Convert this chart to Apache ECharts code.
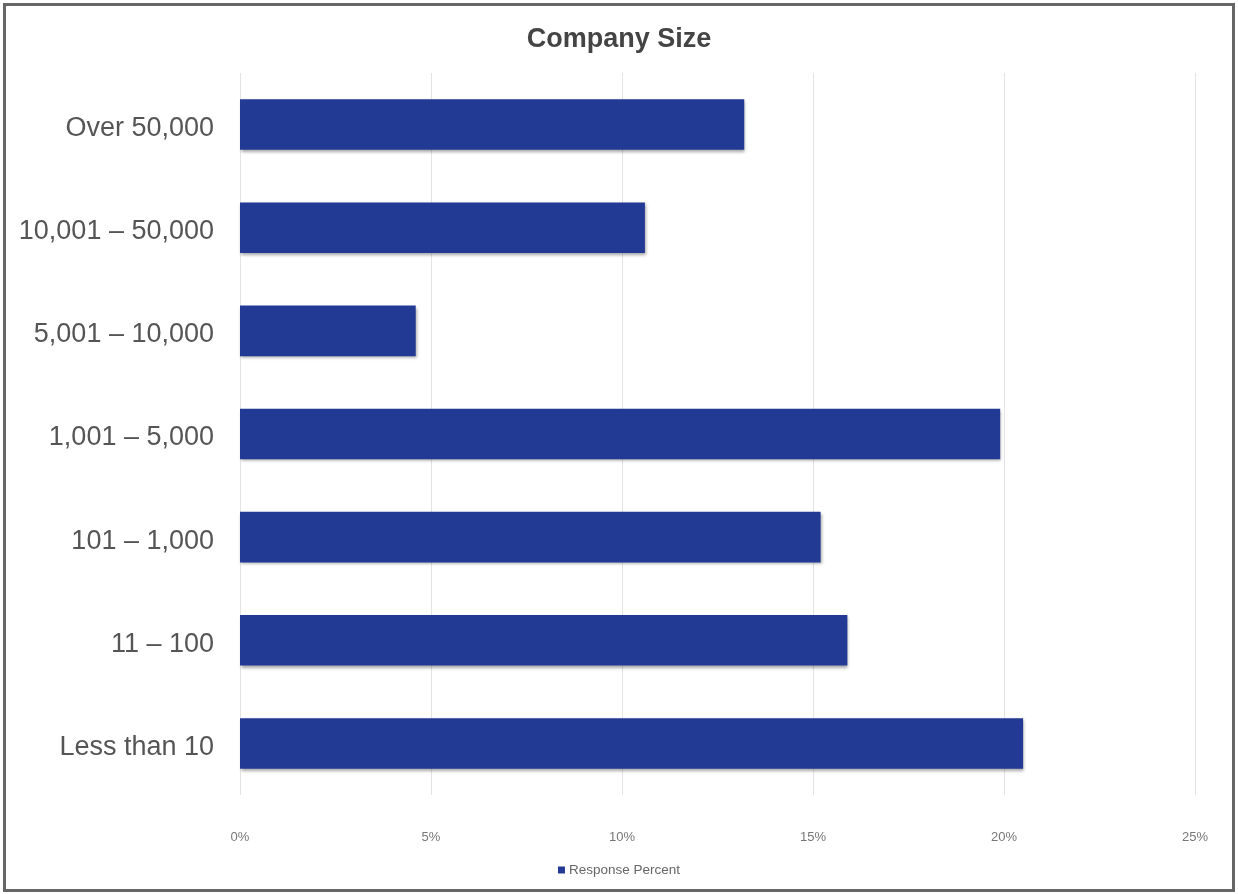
<!DOCTYPE html>
<html>
<head>
<meta charset="utf-8">
<script src="https://cdn.jsdelivr.net/npm/echarts@6/dist/echarts.min.js"></script>
<style>
html,body{margin:0;padding:0;background:#fff;}
#chart{width:1238px;height:894px;}
</style>
</head>
<body>
<div id="chart"></div>
<script>
const categories = ["Over 50,000", "10,001 – 50,000", "5,001 – 10,000", "1,001 – 5,000", "101 – 1,000", "11 – 100", "Less than 10"];
const responsePercent = [13.2, 10.6, 4.6, 19.9, 15.2, 15.9, 20.5];
const xTicks = [0, 5, 10, 15, 20, 25];

const chart = echarts.init(document.getElementById('chart'));
chart.setOption({
  animation: false,
  backgroundColor: '#fff',
  title: {
    text: 'Company Size',
    left: 'center',
    top: 21,
    textStyle: {fontFamily: 'Liberation Sans, Arial, sans-serif', fontSize: 27, fontWeight: 'bold', color: '#444'}
  },
  legend: {
    bottom: 12,
    left: 'center',
    itemWidth: 7,
    itemHeight: 7,
    itemGap: 4,
    icon: 'rect',
    textStyle: {fontFamily: 'Liberation Sans, Arial, sans-serif', fontSize: 13.5, color: '#666', padding: [0,0,0,-1]},
    data: ['Response Percent']
  },
  graphic: [{
    type: 'rect',
    shape: {x: 4.5, y: 4.5, width: 1229, height: 886},
    style: {fill: 'none', stroke: '#666', lineWidth: 3},
    silent: true
  }],
  grid: {left: 240, right: 43, top: 73, bottom: 99},
  xAxis: {
    type: 'value',
    min: xTicks[0],
    max: xTicks[xTicks.length - 1],
    interval: 5,
    axisLine: {show: false},
    axisTick: {show: false},
    splitLine: {lineStyle: {color: '#e3e3e3', width: 1}},
    axisLabel: {formatter: '{value}%', margin: 36, fontFamily: 'Liberation Sans, Arial, sans-serif', fontSize: 13, color: '#777'}
  },
  yAxis: {
    type: 'category',
    inverse: true,
    data: categories,
    axisLine: {show: false},
    axisTick: {show: false},
    axisLabel: {
      margin: 26,
      formatter: function (v) { return '{a|' + v + '}'; },
      rich: {a: {fontFamily: 'Liberation Sans, Arial, sans-serif', fontSize: 27, color: '#555', padding: [8, 0, 0, 0]}}
    }
  },
  series: [{
    name: 'Response Percent',
    type: 'bar',
    data: responsePercent,
    barWidth: '49%',
    itemStyle: {
      color: '#223a93',
      shadowColor: 'rgba(0,0,0,0.35)',
      shadowBlur: 3,
      shadowOffsetX: 1,
      shadowOffsetY: 2
    }
  }]
});
</script>
</body>
</html>
